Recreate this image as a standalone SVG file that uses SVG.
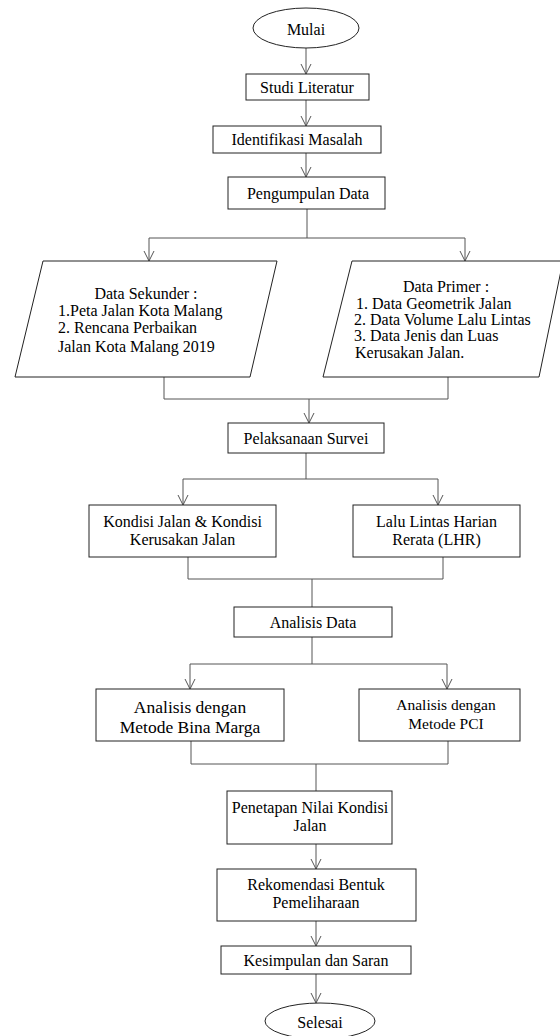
<svg xmlns="http://www.w3.org/2000/svg" width="560" height="1036" viewBox="0 0 560 1036">
<defs>
<marker id="arr" viewBox="-11 -6 12 12" refX="0" refY="0" markerWidth="12" markerHeight="12" orient="auto" markerUnits="userSpaceOnUse">
<path d="M-10,-5 L0,0 L-10,5" fill="none" stroke="#555" stroke-width="1"/>
</marker>
<style>
.n{fill:#fff;stroke:#222;stroke-width:1}
text{font-family:'Liberation Serif','Times New Roman','DejaVu Serif',serif;font-size:16px;fill:#000;dominant-baseline:central}
.c{text-anchor:middle}
.l{fill:none;stroke:#555;stroke-width:1}
.a{fill:none;stroke:#555;stroke-width:1;marker-end:url(#arr)}
</style>
</defs>
<rect width="560" height="1036" fill="#fff"/>
<g id="connectors">
<line class="a" x1="306" y1="48" x2="306" y2="74"/>
<line class="a" x1="306" y1="100" x2="306" y2="126"/>
<line class="a" x1="306" y1="153" x2="306" y2="177"/>
<polyline class="l" points="307,209 307,238"/>
<polyline class="l" points="149,238 465,238"/>
<line class="a" x1="149" y1="238" x2="149" y2="261"/>
<line class="a" x1="465" y1="238" x2="465" y2="261"/>
<polyline class="l" points="164,377 164,399 448,399 448,377"/>
<line class="a" x1="309" y1="399" x2="309" y2="423"/>
<polyline class="l" points="306,453 306,479"/>
<polyline class="l" points="183,479 438,479"/>
<line class="a" x1="183" y1="479" x2="183" y2="505"/>
<line class="a" x1="438" y1="479" x2="438" y2="505"/>
<polyline class="l" points="188,557 188,579 443,579 443,557"/>
<polyline class="l" points="312,579 312,607"/>
<polyline class="l" points="312,637 312,664"/>
<polyline class="l" points="190,664 447,664"/>
<line class="a" x1="190" y1="664" x2="190" y2="689"/>
<line class="a" x1="447" y1="664" x2="447" y2="689"/>
<polyline class="l" points="191,741 191,764 448,764 448,741"/>
<polyline class="l" points="316,764 316,791"/>
<line class="a" x1="316" y1="844" x2="316" y2="869"/>
<line class="a" x1="316" y1="921" x2="316" y2="946"/>
<line class="a" x1="316" y1="974" x2="316" y2="1003"/>
</g>
<g id="mulai">
<ellipse class="n" cx="306" cy="28" rx="53" ry="20"/>
<text class="c" x="306" y="29">Mulai</text>
</g>
<g id="studi">
<rect class="n" x="246" y="74" width="123" height="26"/>
<text class="c" x="307" y="87">Studi Literatur</text>
</g>
<g id="identifikasi">
<rect class="n" x="213" y="126" width="168" height="27"/>
<text class="c" x="297" y="139.5">Identifikasi Masalah</text>
</g>
<g id="pengumpulan">
<rect class="n" x="228" y="177" width="157" height="32"/>
<text class="c" x="308" y="193">Pengumpulan Data</text>
</g>
<g id="sekunder">
<polygon class="n" points="43,261 277,261 250,377 15,377"/>
<text class="c" x="146" y="293">Data Sekunder :</text>
<text x="58" y="310">1.Peta Jalan Kota Malang</text>
<text x="58" y="327">2. Rencana Perbaikan</text>
<text x="58" y="346">Jalan Kota Malang 2019</text>
</g>
<g id="primer">
<polygon class="n" points="352,261 563,261 539,377 323,377"/>
<text class="c" x="446" y="286">Data Primer :</text>
<text x="356" y="303">1. Data Geometrik Jalan</text>
<text x="354" y="319">2. Data Volume Lalu Lintas</text>
<text x="354" y="335">3. Data Jenis dan Luas</text>
<text x="355" y="352">Kerusakan Jalan.</text>
</g>
<g id="pelaksanaan">
<rect class="n" x="228" y="423" width="156" height="30"/>
<text class="c" x="306" y="438">Pelaksanaan Survei</text>
</g>
<g id="kondisi">
<rect class="n" x="89" y="505" width="187" height="52"/>
<text class="c" x="182.5" y="521">Kondisi Jalan &amp; Kondisi</text>
<text class="c" x="182.5" y="539">Kerusakan Jalan</text>
</g>
<g id="lhr">
<rect class="n" x="353" y="505" width="167" height="52"/>
<text class="c" x="436.5" y="521">Lalu Lintas Harian</text>
<text class="c" x="436.5" y="539">Rerata (LHR)</text>
</g>
<g id="analisis">
<rect class="n" x="234" y="607" width="158" height="30"/>
<text class="c" x="313" y="622">Analisis Data</text>
</g>
<g id="binamarga">
<rect class="n" x="96" y="689" width="188" height="52"/>
<text class="c" x="190" y="707" style="font-size:17.5px">Analisis dengan</text>
<text class="c" x="190" y="727" style="font-size:17.5px">Metode Bina Marga</text>
</g>
<g id="pci">
<rect class="n" x="359" y="689" width="161" height="52"/>
<text class="c" x="446" y="704" style="font-size:15.5px">Analisis dengan</text>
<text class="c" x="446" y="723" style="font-size:15.5px">Metode PCI</text>
</g>
<g id="penetapan">
<rect class="n" x="227" y="791" width="165" height="53"/>
<text class="c" x="310" y="807">Penetapan Nilai Kondisi</text>
<text class="c" x="310" y="825">Jalan</text>
</g>
<g id="rekomendasi">
<rect class="n" x="217" y="869" width="199" height="52"/>
<text class="c" x="316" y="884">Rekomendasi Bentuk</text>
<text class="c" x="316" y="902">Pemeliharaan</text>
</g>
<g id="kesimpulan">
<rect class="n" x="221" y="946" width="190" height="28"/>
<text class="c" x="316" y="960">Kesimpulan dan Saran</text>
</g>
<g id="selesai">
<ellipse class="n" cx="320" cy="1021" rx="55" ry="18"/>
<text class="c" x="320" y="1022">Selesai</text>
</g>
</svg>
